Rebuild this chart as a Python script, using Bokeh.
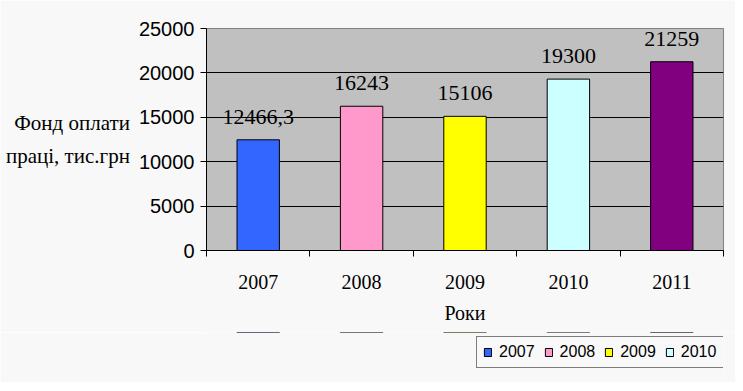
from bokeh.plotting import figure
from bokeh.models import ColumnDataSource, FixedTicker, Legend, LegendItem
from bokeh.layouts import column
from bokeh.core.properties import value
from bokeh.embed import file_html
from bokeh.resources import INLINE

years = ["2007", "2008", "2009", "2010", "2011"]
fund = [12466.3, 16243, 15106, 19300, 21259]
fund_labels = ["12466,3", "16243", "15106", "19300", "21259"]
colors = ["#3366FF", "#FF99CC", "#FFFF00", "#CCFFFF", "#800080"]
y_ticks = [0, 5000, 10000, 15000, 20000, 25000]

xpos = [i + 0.5 for i in range(len(years))]
src = ColumnDataSource(dict(x=xpos, top=fund, lab=fund_labels, color=colors, year=years))

BG = "#F8F8F8"

p = figure(width=735, height=332, output_backend="svg", toolbar_location=None,
           x_range=(0, len(years)), y_range=(0, 25000),
           min_border_left=206, min_border_right=12, min_border_top=28, min_border_bottom=82)
p.background_fill_color = "#C0C0C0"
p.border_fill_color = BG
p.outline_line_color = "#808080"

r = p.vbar(x="x", top="top", width=0.41, fill_color="color", line_color="black", line_width=1, source=src)
p.text(x="x", y="top", text="lab", source=src, text_align="center", text_baseline="bottom",
       y_offset=-16, text_font=value("Liberation Serif"), text_font_size="22px", text_color="black")

p.xgrid.visible = False
p.ygrid.ticker = FixedTicker(ticks=y_ticks)
p.ygrid.grid_line_color = "black"
p.ygrid.grid_line_width = 1

ya = p.yaxis[0]
ya.ticker = FixedTicker(ticks=y_ticks)
ya.axis_line_color = "black"
ya.major_tick_line_color = "black"
ya.major_tick_out = 6
ya.major_tick_in = 0
ya.minor_tick_line_color = None
ya.major_label_text_font = "Liberation Sans"
ya.major_label_text_font_size = "20px"
ya.major_label_text_color = "black"
ya.major_label_standoff = 6
ya.axis_label = "Фонд оплати\nпраці, тис.грн"
ya.axis_label_orientation = "horizontal"
ya.axis_label_text_font = "Liberation Serif"
ya.axis_label_text_font_style = "normal"
ya.axis_label_text_font_size = "21px"
ya.axis_label_text_color = "black"
ya.axis_label_text_align = "center"
ya.axis_label_text_line_height = 1.35
ya.axis_label_standoff = 6

xa = p.xaxis[0]
xa.ticker = FixedTicker(ticks=xpos, minor_ticks=list(range(len(years) + 1)))
xa.major_label_overrides = {x: y for x, y in zip(xpos, years)}
xa.axis_line_color = "black"
xa.major_tick_line_color = None
xa.minor_tick_line_color = "black"
xa.minor_tick_out = 6
xa.minor_tick_in = 0
xa.major_label_text_font = "Liberation Serif"
xa.major_label_text_font_size = "20px"
xa.major_label_text_color = "black"
xa.major_label_standoff = 18
xa.axis_label = "Роки"
xa.axis_label_text_font = "Liberation Serif"
xa.axis_label_text_font_style = "normal"
xa.axis_label_text_font_size = "20px"
xa.axis_label_text_color = "black"
xa.axis_label_standoff = 10

# legend strip below the chart
q = figure(width=735, height=50, output_backend="svg", toolbar_location=None,
           x_range=(0, len(years)), y_range=(-10, -5),
           x_axis_location=None, y_axis_location=None,
           min_border_left=0, min_border_right=0, min_border_top=0, min_border_bottom=0)
q.background_fill_color = BG
q.border_fill_color = BG
q.outline_line_color = None
q.grid.visible = False
r2 = q.vbar(x="x", top="top", width=0.41, fill_color="color", line_color="black", line_width=1, source=src)

items = [LegendItem(label=years[i], renderers=[r2], index=i) for i in range(len(years))]
legend = Legend(items=items, orientation="horizontal", location=(270, 14),
                label_text_font="Liberation Sans", label_text_font_size="16px",
                label_text_color="black", border_line_color="black", border_line_width=1,
                background_fill_color=BG, background_fill_alpha=1,
                glyph_width=9, glyph_height=10, spacing=9, padding=6, margin=0,
                label_standoff=7, label_height=18)
q.add_layout(legend, "center")

layout = column(p, q, spacing=0)
open("out.html", "w").write(file_html(layout, INLINE))
